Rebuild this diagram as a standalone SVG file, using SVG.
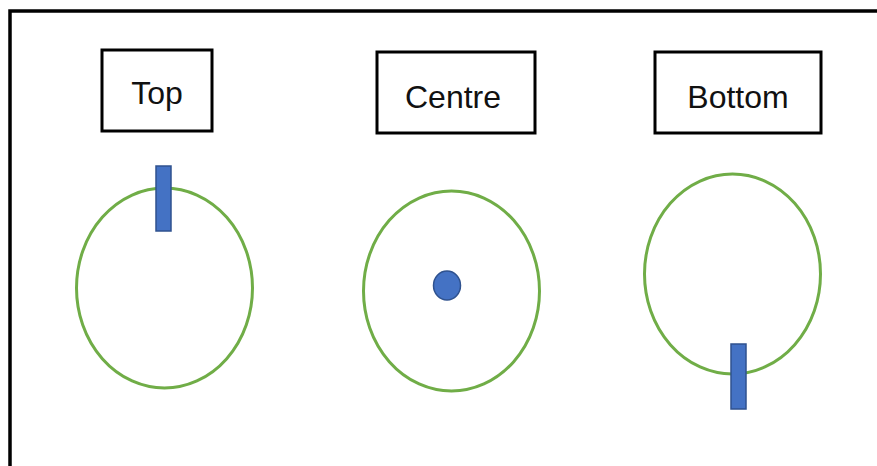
<svg xmlns="http://www.w3.org/2000/svg" width="877" height="466" viewBox="0 0 877 466">
<style>
.lbl{fill:#fff;stroke:#000;stroke-width:3}
.txt{font-family:"Liberation Sans","Carlito",Arial,sans-serif;font-size:32px;fill:#111;text-anchor:middle}
.ring{fill:#fff;stroke:#70AD47;stroke-width:3}
.mark{fill:#4472C4;stroke:#2F528F;stroke-width:1.5}
</style>
<rect width="877" height="466" fill="#fff"/>
<path d="M10,466 V11 H877" fill="none" stroke="#000" stroke-width="3.5"/>
<g id="top">
<rect class="lbl" x="102" y="50" width="110" height="81"/>
<text class="txt" x="157" y="104">Top</text>
<ellipse class="ring" cx="164.5" cy="288" rx="88" ry="100"/>
<rect class="mark" x="156" y="166" width="15" height="65"/>
</g>
<g id="centre">
<rect class="lbl" x="377" y="52" width="158" height="81"/>
<text class="txt" x="453" y="108">Centre</text>
<ellipse class="ring" cx="451.5" cy="291" rx="88" ry="100"/>
<ellipse class="mark" cx="447" cy="285.5" rx="13.5" ry="14.5"/>
</g>
<g id="bottom">
<rect class="lbl" x="655" y="52" width="166" height="81"/>
<text class="txt" x="738" y="108">Bottom</text>
<ellipse class="ring" cx="732.5" cy="274" rx="88" ry="100"/>
<rect class="mark" x="731" y="344" width="15" height="65"/>
</g>
<g id="connectors"/>
</svg>
